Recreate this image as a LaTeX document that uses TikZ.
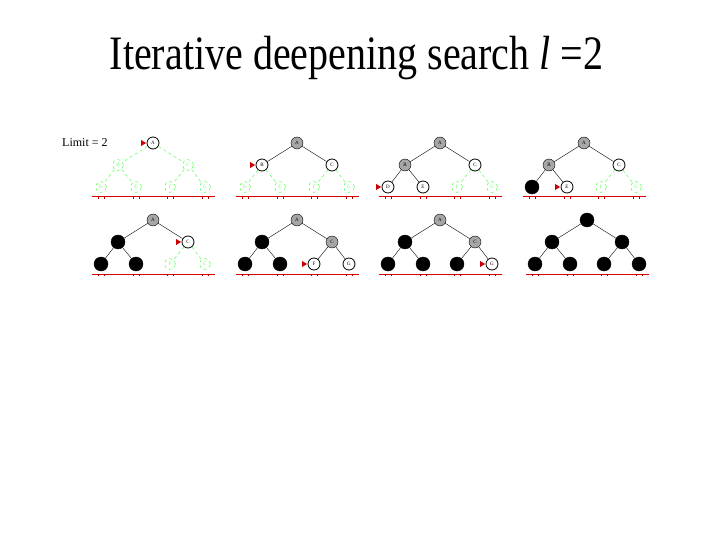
\documentclass[tikz,border=0pt]{standalone}
\usepackage{fontspec}
\setmainfont{Liberation Serif}
\begin{document}
\begin{tikzpicture}[x=1pt,y=-1pt,
  base/.style={circle,inner sep=0pt,font=\fontsize{5}{5}\selectfont},
  st-g/.style={base,draw=green!60!white,dashed,line width=0.6pt,minimum size=11pt,text=green!60!white},
  st-w/.style={base,draw=black,thick,fill=white,minimum size=12pt},
  st-c/.style={base,draw=black,fill=black!35,minimum size=12pt},
  st-b/.style={base,draw=black,fill=black,minimum size=14pt},
  ed-g/.style={draw=green!60!white,dashed,line width=0.6pt},
  ed-w/.style={draw=black},
  ed-c/.style={draw=black},
  ed-b/.style={draw=black},
  redline/.style={draw=red!85!black,line width=1pt},
  tick/.style={draw=red!70!black,line width=0.4pt},
  markred/.style={fill=red!80!black}
]
\useasboundingbox (0,0) rectangle (720,540);
\node[anchor=base,inner sep=0pt,font=\fontsize{40}{44}\selectfont] (title) at (356.5,70) {\scalebox{1}[1.2]{Iterative deepening search \textit{l} =2}};
\node[anchor=west,inner sep=0pt,font=\fontsize{12}{13}\selectfont] (limit) at (62,143) {Limit = 2};

% #1 prefix, #2 cx, #3 ry, #4..#9 states of A..F, G state in \gst
\newcommand\drawtree[9]{%
  \begin{scope}[shift={(#2,#3)}]
    \coordinate (#1-l) at (-61,54);
    \coordinate (#1-r) at (62,54);
    \draw[redline] (#1-l) -- (#1-r);
    \foreach \t in {-55,-49,-20,-14,14,20,49,55} {\draw[tick] (\t,54) -- (\t,56);}
    \node[st-#4] (#1-A) at (0,0) {A};
    \node[st-#5] (#1-B) at (-35,22) {B};
    \node[st-#6] (#1-C) at (35,22) {C};
    \node[st-#7] (#1-D) at (-52,44) {D};
    \node[st-#8] (#1-E) at (-17,44) {E};
    \node[st-#9] (#1-F) at (17,44) {F};
    \node[st-\gst] (#1-G) at (52,44) {G};
    \draw[ed-#5] (#1-A) -- (#1-B);
    \draw[ed-#6] (#1-A) -- (#1-C);
    \draw[ed-#7] (#1-B) -- (#1-D);
    \draw[ed-#8] (#1-B) -- (#1-E);
    \draw[ed-#9] (#1-C) -- (#1-F);
    \draw[ed-\gst] (#1-C) -- (#1-G);
  \end{scope}}
\newcommand\curmark[1]{\fill[markred] (#1.west) ++(-0.5,0) -- ++(-5,-3) -- ++(0,6) -- cycle;}

\def\gst{g}
\drawtree{p1}{153}{143}{w}{g}{g}{g}{g}{g}
\curmark{p1-A}
\drawtree{p2}{297}{143}{c}{w}{w}{g}{g}{g}
\curmark{p2-B}
\drawtree{p3}{440}{143}{c}{c}{w}{w}{w}{g}
\curmark{p3-D}
\drawtree{p4}{584}{143}{c}{c}{w}{b}{w}{g}
\curmark{p4-E}
\drawtree{p5}{153}{220}{c}{b}{w}{b}{b}{g}
\curmark{p5-C}
\def\gst{w}
\drawtree{p6}{297}{220}{c}{b}{c}{b}{b}{w}
\curmark{p6-F}
\drawtree{p7}{440}{220}{c}{b}{c}{b}{b}{b}
\curmark{p7-G}
\def\gst{b}
\drawtree{p8}{587}{220}{b}{b}{b}{b}{b}{b}
\end{tikzpicture}
\end{document}
